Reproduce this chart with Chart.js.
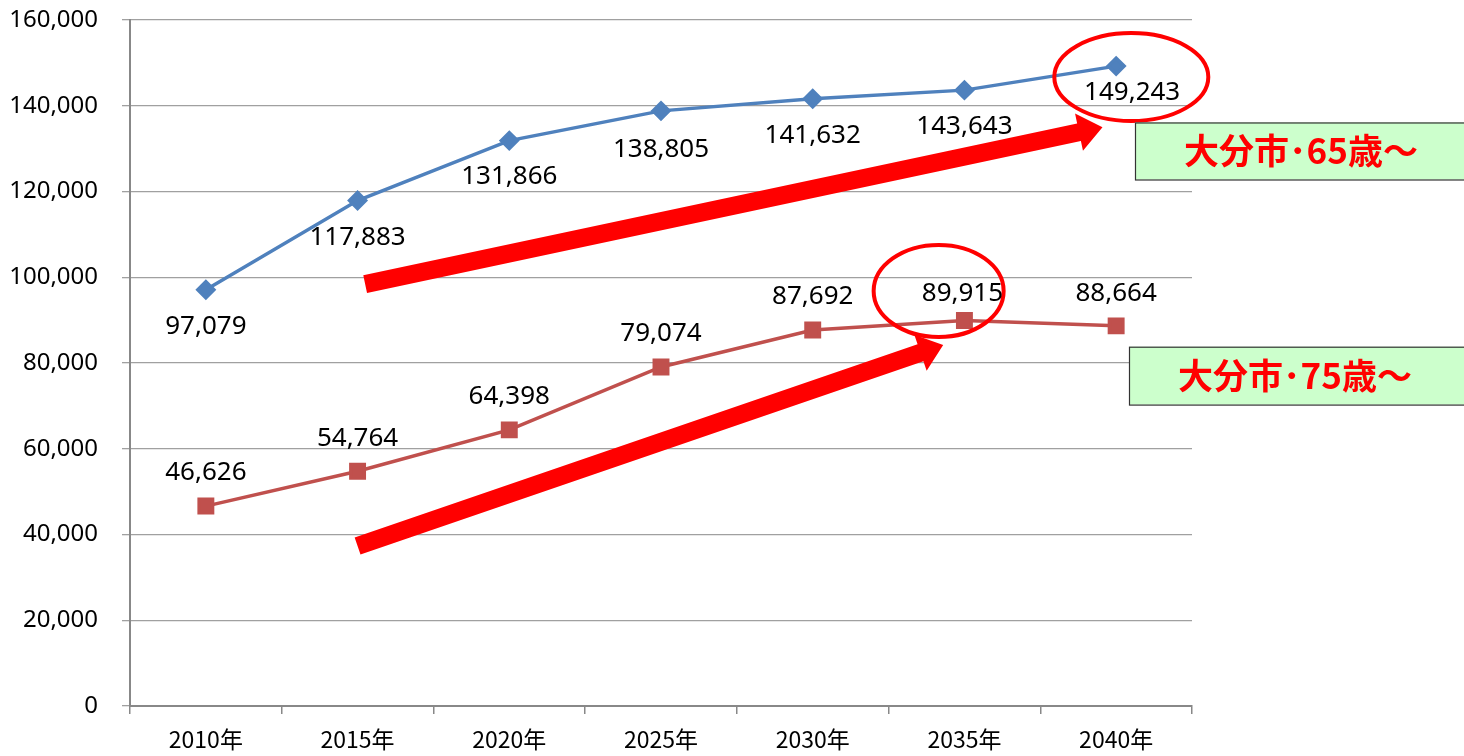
<!DOCTYPE html>
<html>
<head>
<meta charset="utf-8">
<script src="https://cdn.jsdelivr.net/npm/chart.js@4/dist/chart.umd.min.js"></script>
<style>
  html, body { margin: 0; padding: 0; background: #fff; }
  #wrap { width: 1464px; height: 756px; position: relative; }
</style>
</head>
<body>
<div id="wrap"><canvas id="popChart" width="1464" height="756"></canvas></div>
<script>
// ---- data ----
const years = ['2010年', '2015年', '2020年', '2025年', '2030年', '2035年', '2040年'];
const age65 = [97079, 117883, 131866, 138805, 141632, 143643, 149243];
const age75 = [46626, 54764, 64398, 79074, 87692, 89915, 88664];
const yTicks = [0, 20000, 40000, 60000, 80000, 100000, 120000, 140000, 160000];
const boxLabels = ['大分市･65歳～', '大分市･75歳～'];

// label offsets (px) from each point
const offs65 = [[0, 37], [0, 37], [0, 36], [0, 39], [0, 37], [0, 36], [16, 26]];
const offs75 = [[0, -33], [0, -33], [0, -33], [0, -33], [0, -33], [-2, -27], [0, -32]];

const fmt = v => v.toLocaleString('en-US');

function drawArrow(ctx, x1, y1, x2, y2) {
    const ang = Math.atan2(y2 - y1, x2 - x1);
    const shaft = 9, headLen = 24, headHalf = 19;
    const len = Math.hypot(x2 - x1, y2 - y1);
    ctx.save();
    ctx.translate(x1, y1);
    ctx.rotate(ang);
    ctx.fillStyle = '#ff0000';
    ctx.beginPath();
    ctx.moveTo(0, -shaft);
    ctx.lineTo(len - headLen, -shaft);
    ctx.lineTo(len - headLen, -headHalf);
    ctx.lineTo(len, 0);
    ctx.lineTo(len - headLen, headHalf);
    ctx.lineTo(len - headLen, shaft);
    ctx.lineTo(0, shaft);
    ctx.closePath();
    ctx.fill();
    ctx.restore();
}

const overlay = {
    id: 'overlay',
    afterDatasetsDraw(chart) {
        const ctx = chart.ctx;
        const xs = chart.scales.x, ys = chart.scales.y;
        const X = v => xs.getPixelForValue(v);
        const Y = v => ys.getPixelForValue(v);

        // arrows
        drawArrow(ctx, X(1.05), Y(98400), X(5.91), Y(135000));
        drawArrow(ctx, X(1.0), Y(37300), X(4.86), Y(84200));

        // ellipses
        ctx.save();
        ctx.strokeStyle = '#ff0000';
        ctx.lineWidth = 4;
        ctx.beginPath();
        ctx.ellipse(X(6.10), Y(146700), 77, 44, 0, 0, Math.PI * 2);
        ctx.stroke();
        ctx.beginPath();
        ctx.ellipse(X(4.83), Y(96800), 65, 46, 0, 0, Math.PI * 2);
        ctx.stroke();
        ctx.restore();

        // data labels
        ctx.save();
        ctx.fillStyle = '#000';
        ctx.font = '26px "Noto Sans"';
        ctx.textAlign = 'center';
        ctx.textBaseline = 'middle';
        age65.forEach((v, i) => {
            ctx.fillText(fmt(v), X(i) + offs65[i][0], Y(v) + offs65[i][1]);
        });
        age75.forEach((v, i) => {
            ctx.fillText(fmt(v), X(i) + offs75[i][0], Y(v) + offs75[i][1]);
        });
        ctx.restore();

        // green label boxes
        const boxes = [
            { x: chart.chartArea.right - 57, top: Y(136100), bottom: Y(122800) },
            { x: chart.chartArea.right - 63, top: Y(83800), bottom: Y(70300) }
        ];
        ctx.save();
        boxes.forEach((b, i) => {
            const w = 340;
            ctx.fillStyle = '#ccffcc';
            ctx.fillRect(b.x, b.top, w, b.bottom - b.top);
            ctx.strokeStyle = '#333';
            ctx.lineWidth = 1.2;
            ctx.strokeRect(b.x + 0.5, b.top + 0.5, w, b.bottom - b.top);
            ctx.fillStyle = '#ff0000';
            ctx.font = 'bold 35px "Noto Sans CJK JP"';
            ctx.textAlign = 'center';
            ctx.textBaseline = 'middle';
            ctx.fillText(boxLabels[i], b.x + 166, (b.top + b.bottom) / 2);
        });
        ctx.restore();
    }
};

new Chart(document.getElementById('popChart'), {
    type: 'line',
    data: {
        labels: years,
        datasets: [{
            label: '65歳～',
            data: age65,
            borderColor: '#4f81bd',
            backgroundColor: '#4f81bd',
            borderWidth: 3.5,
            pointStyle: 'rectRot',
            pointRadius: 8,
            tension: 0
        }, {
            label: '75歳～',
            data: age75,
            borderColor: '#c0504d',
            backgroundColor: '#c0504d',
            borderWidth: 3.5,
            pointStyle: 'rect',
            pointRadius: 9.5,
            tension: 0
        }]
    },
    options: {
        responsive: false,
        animation: false,
        layout: { padding: { top: 20, right: 272, left: 0, bottom: 0 } },
        plugins: { legend: { display: false }, tooltip: { enabled: false } },
        scales: {
            x: {
                offset: true,
                grid: { offset: true, drawOnChartArea: false, drawTicks: true, tickLength: 8, color: '#888', lineWidth: 1.5 },
                border: { color: '#888', width: 2 },
                ticks: { color: '#000', font: { family: '"Noto Sans CJK JP"', size: 23 }, padding: 11, maxRotation: 0 },
                afterFit: s => { s.height = 50; }
            },
            y: {
                min: 0,
                max: 160000,
                afterBuildTicks: s => { s.ticks = yTicks.map(v => ({ value: v })); },
                grid: { color: '#a0a0a0', lineWidth: 1.3, tickLength: 8 },
                border: { color: '#888', width: 2 },
                ticks: { color: '#000', font: { family: '"Noto Sans"', size: 24 }, padding: 24, callback: v => fmt(v) },
                afterFit: s => { s.width = 130; s.paddingTop = 0; s.paddingBottom = 0; }
            }
        }
    },
    plugins: [overlay]
});
</script>
</body>
</html>
